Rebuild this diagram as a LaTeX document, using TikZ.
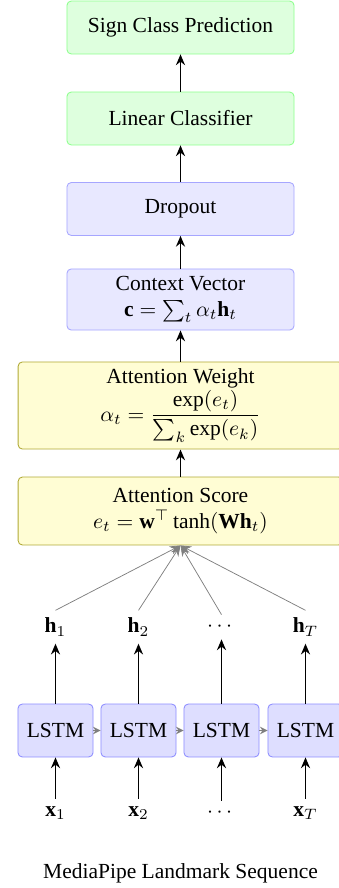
\documentclass[tikz,border=0pt]{standalone}
\usepackage{amsmath,amssymb}
\usepackage{fontspec}
\setmainfont{Liberation Serif}
\usetikzlibrary{positioning,arrows.meta}

\tikzset{
  greenbox/.style={draw=green!45, fill=green!13, rounded corners=2pt, line width=0.4pt,
                   minimum width=105.6pt, minimum height=24.6pt, align=center},
  bluebox/.style={draw=blue!35, fill=blue!9, rounded corners=2pt, line width=0.4pt,
                  minimum width=105.6pt, minimum height=24.6pt, align=center},
  attbox/.style={draw=olive!70, fill=yellow!17, rounded corners=2pt, line width=0.4pt,
                 minimum width=151pt, align=center, inner sep=1pt},
  lstmbox/.style={draw=blue!45, fill=blue!13, rounded corners=2pt, line width=0.4pt,
                  minimum width=34.9pt, minimum height=24.6pt, inner sep=1pt},
  flow/.style={-{Stealth[length=5pt,width=4.2pt]}, line width=0.8pt},
  recur/.style={-{Stealth[length=3.5pt,width=3.5pt]}, gray, line width=0.8pt},
  gather/.style={-{Stealth[length=5pt,width=4pt]}, gray, line width=0.35pt},
}

\begin{document}
\begin{tikzpicture}[x=0.465pt, y=-0.465pt]
  \useasboundingbox (0,0) rectangle (339,888);

  % classifier head
  \node (pred) at (180.5,27.5) [greenbox] {Sign Class Prediction};
  \node (clf) at (180.5,118.5) [greenbox] {Linear Classifier};
  \node (drop) at (180.5,209) [bluebox] {Dropout};
  \node (ctx) at (180.5,299.5) [bluebox, minimum height=28.4pt, inner sep=1pt] {Context Vector\\ $\mathbf{c}=\sum_t \alpha_t \mathbf{h}_t$};

  % attention
  \node (attw) at (180.5,405.5) [attbox, minimum height=40.5pt] {Attention Weight\\ $\alpha_t=\dfrac{\exp(e_t)}{\sum_k \exp(e_k)}$};
  \node (atts) at (180.5,511) [attbox, minimum height=31.6pt] {Attention Score\\ $e_t=\mathbf{w}^\top\tanh(\mathbf{W}\mathbf{h}_t)$};

  % LSTM encoder
  \node (lstm1) at (55.5,730.5) [lstmbox] {LSTM};
  \node (lstm2) at (138.5,730.5) [lstmbox] {LSTM};
  \node (lstm3) at (221.5,730.5) [lstmbox] {LSTM};
  \node (lstm4) at (305.5,730.5) [lstmbox] {LSTM};

  \node (h1) at (55.5,627) {$\mathbf{h}_1$};
  \node (h2) at (138.5,627) {$\mathbf{h}_2$};
  \node (h3) at (221.5,627) {$\cdots$};
  \node (h4) at (305.5,627) {$\mathbf{h}_T$};

  \node (x1) at (55.5,813) {$\mathbf{x}_1$};
  \node (x2) at (138.5,813) {$\mathbf{x}_2$};
  \node (x3) at (221.5,813) {$\cdots$};
  \node (x4) at (305.5,813) {$\mathbf{x}_T$};

  \node (seq) at (180.5,873) {MediaPipe Landmark Sequence};

  \draw[flow] (clf) -- (pred);
  \draw[flow] (drop) -- (clf);
  \draw[flow] (ctx) -- (drop);
  \draw[flow] (attw) -- (ctx);
  \draw[flow] (atts) -- (attw);

  \foreach \i in {1,...,4} {
    \draw[flow] (x\i) -- (lstm\i);
    \draw[flow] (lstm\i) -- (h\i);
    \draw[gather] (h\i.north) -- (atts.south);
  }
  \draw[recur] (lstm1) -- (lstm2);
  \draw[recur] (lstm2) -- (lstm3);
  \draw[recur] (lstm3) -- (lstm4);
\end{tikzpicture}
\end{document}
